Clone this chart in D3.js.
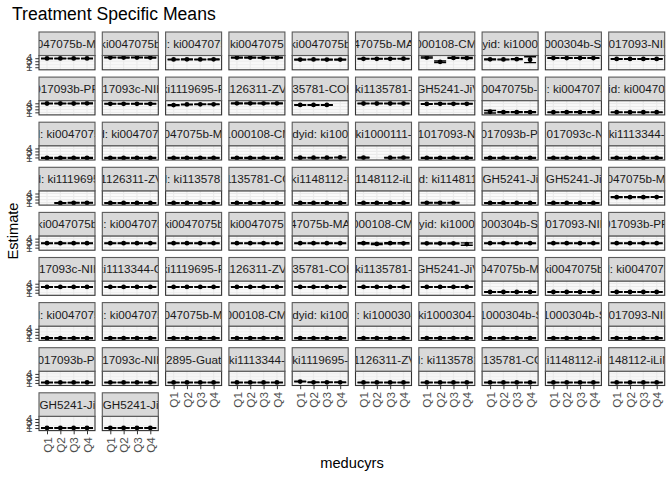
<!DOCTYPE html>
<html><head><meta charset="utf-8">
<script src="https://cdn.jsdelivr.net/npm/d3@7"></script>
<style>body{margin:0;background:#fff}svg{display:block}text{font-family:"Liberation Sans",Arial,Helvetica,sans-serif}</style>
</head><body>
<svg id="chart" width="672" height="480"></svg>
<script>
const quartiles = ["Q1","Q2","Q3","Q4"];
const yTicks = [1,2,3,4];
const stripLabels = [
 "0047075b-MA","ki0047075b","d: ki0047075","ki0047075","ki0047075b","047075b-MAL","1000108-CMC","dyid: ki10001","1000304b-SA","1017093-NIH",
 "017093b-PR","017093c-NIH","ki1119695-P","1126311-ZVI","135781-COH","ki1135781-","iGH5241-JiV","ki0047075b-M","d: ki0047075","dyid: ki0047075",
 "d: ki0047075","id: ki0047075","0047075b-MA","i1000108-CM","udyid: ki1000","ki1000111-","i1017093-NI","1017093b-PR","1017093c-NI","ki1113344-",
 "d: ki1119695","i1126311-ZV","d: ki1135781","i1135781-CO","ki1148112-i","i1148112-iLi","yid: ki1148112","kiGH5241-JiV","kiGH5241-JiV","0047075b-MA",
 "ki0047075b","d: ki0047075","ki0047075b","ki0047075","047075b-MAL","1000108-CMC","dyid: ki10001","1000304b-SA","1017093-NIH","017093b-PR",
 "017093c-NIH","ki1113344-G","ki1119695-P","1126311-ZVI","135781-COH","ki1135781-","iGH5241-JiV","0047075b-MA","ki0047075b","d: ki0047075",
 "d: ki0047075","d: ki0047075","0047075b-MA","1000108-CMC","udyid: ki1000","d: ki1000304","ki1000304-","i1000304b-S","i1000304b-S","1017093-NIH",
 "1017093b-PR","017093c-NIH","12895-Guate","ki1113344-","ki1119695-","i1126311-ZV","d: ki1135781","1135781-CO","ki1148112-iL","1148112-iLiN",
 "kiGH5241-JiV","kiGH5241-JiV"
];
// estimates by panel (Q1..Q4); null = not estimated
const estimates = [
 [3.93,3.93,3.93,3.93],[4.24,4.2,4.24,4.2],[3.58,3.62,3.58,3.62],[4.2,4.2,4.15,4.2],[3.54,3.58,3.54,3.54],[3.80,3.80,3.80,3.84],[4.2,2.79,4.11,4.06],[3.62,3.58,3.67,3.49],[4.06,4.06,4.06,4.06],[3.76,3.76,3.76,3.76],
 [3.93,3.93,3.93,3.98],[3.84,3.84,3.84,3.84],[3.40,3.62,3.67,3.67],[3.98,3.98,3.98,3.98],[3.45,3.45,3.45,null],[3.93,3.93,3.93,3.93],[3.80,3.84,3.84,3.84],[1.2,1.07,1.07,1.07],[1.03,1.07,1.07,1.07],[1.03,1.03,1.03,1.03],
 [0.85,0.85,0.85,0.85],[0.85,0.85,0.85,0.85],[0.85,0.85,0.85,0.85],[0.85,0.85,0.85,0.85],[0.9,0.9,0.9,0.98],[0.94,null,0.9,0.94],[0.85,0.85,0.85,0.85],[0.85,0.85,0.85,0.85],[0.85,0.85,0.85,0.85],[0.85,0.85,0.85,0.85],
 [null,0.85,0.9,0.9],[0.85,0.85,0.85,0.85],[0.85,0.85,0.85,0.85],[0.85,0.85,0.85,0.85],[0.85,0.85,0.85,0.85],[0.85,0.85,0.85,0.85],[0.9,0.9,0.9,null],[0.85,0.85,0.85,0.85],[0.85,0.85,0.85,0.85],[2.79,2.79,2.79,2.83],
 [2.48,2.48,2.48,2.48],[2.48,2.48,2.48,2.48],[2.48,2.48,2.48,2.48],[2.48,2.48,2.48,2.48],[2.48,2.48,2.48,2.48],[2.48,2.22,2.48,2.44],[2.44,2.44,2.44,2.17],[2.48,2.48,2.48,2.48],[2.48,2.48,2.48,2.48],[2.48,2.48,2.48,2.48],
 [2.92,2.92,2.92,2.92],[2.92,2.92,2.92,2.92],[2.92,2.92,2.92,2.92],[2.92,2.92,2.92,2.92],[2.92,2.92,2.92,2.92],[2.92,2.92,2.92,2.92],[2.92,2.92,2.92,2.92],[1.25,1.25,1.25,1.25],[1.25,1.25,1.25,1.25],[1.25,1.25,1.25,1.25],
 [0.9,0.9,0.9,0.9],[0.9,0.9,0.9,0.9],[0.9,0.9,0.9,0.9],[0.9,0.9,0.9,0.9],[0.9,0.9,0.9,0.9],[0.9,0.9,0.9,0.9],[0.9,0.9,0.9,0.9],[0.9,0.9,0.9,0.9],[0.9,0.9,0.9,0.9],[0.9,0.9,0.9,0.9],
 [1.16,1.16,1.16,1.16],[1.16,1.16,1.16,1.16],[1.16,1.16,1.16,1.16],[1.16,1.16,1.16,1.16],[1.47,1.2,1.2,1.2],[1.16,1.16,1.16,1.16],[1.16,1.16,1.16,1.16],[1.16,1.16,1.16,1.16],[1.16,1.16,1.16,1.16],[1.16,1.16,1.16,1.16],
 [1.03,1.03,1.03,1.03],[1.03,1.03,1.03,1.03]
];
// half-width of the 95% interval by panel; default used when not listed
const ciDefault = 0.11;
const ciWide = {7:[0.13,0.13,0.13,0.97], 6:[0.18,0.26,0.18,0.18], 17:[0.4,0.13,0.13,0.13], 46:[0.13,0.13,0.13,0.4], 45:[0.18,0.22,0.18,0.18]};

const svg = d3.select("#chart");
const nCol = 10, x0 = 39, colPitch = 63.3, pw = 56;
const y0 = 32, rowPitch = 45.1, stripH = 23.5, ph = 14.3;
const yDomain = [0.15, 4.9];

svg.append("text").attr("x", 12).attr("y", 20).attr("font-size", 17.6).attr("fill", "#000").text("Treatment Specific Means");

const x = d3.scalePoint().domain(quartiles).range([0, pw]).padding(0.6);
const y = d3.scaleLinear().domain(yDomain).range([ph, 0]);
const minorTicks = [0.5,1.5,2.5,3.5,4.5];

const nPanels = stripLabels.length;
stripLabels.forEach((lab, i) => {
  const r = Math.floor(i / nCol), c = i % nCol;
  const px = x0 + c * colPitch, sy = y0 + r * rowPitch, py = sy + stripH;
  const g = svg.append("g").attr("transform", `translate(${px},${py})`);
  g.append("rect").attr("width", pw).attr("height", ph).attr("fill", "#fff");
  g.selectAll(".mn").data(minorTicks).join("line").attr("x1", 0).attr("x2", pw)
    .attr("y1", d => y(d)).attr("y2", d => y(d)).attr("stroke", "#F0F0F0").attr("stroke-width", 0.7);
  g.selectAll(".mj").data(yTicks).join("line").attr("x1", 0).attr("x2", pw)
    .attr("y1", d => y(d)).attr("y2", d => y(d)).attr("stroke", "#EBEBEB").attr("stroke-width", 1.2);
  g.selectAll(".vx").data(quartiles).join("line").attr("x1", d => x(d)).attr("x2", d => x(d))
    .attr("y1", 0).attr("y2", ph).attr("stroke", "#EBEBEB").attr("stroke-width", 1.2);
  const clipId = "clip" + i;
  g.append("clipPath").attr("id", clipId).append("rect").attr("width", pw).attr("height", ph);
  const pts = quartiles.map((q, k) => ({q, v: estimates[i][k], h: (ciWide[i] ? ciWide[i][k] : ciDefault)})).filter(d => d.v !== null);
  const dg = g.append("g").attr("clip-path", `url(#${clipId})`);
  const cap = x.step() * 0.45;
  pts.forEach(d => {
    const cx = x(d.q), lo = y(d.v - d.h), hi = y(d.v + d.h);
    dg.append("line").attr("x1", cx).attr("x2", cx).attr("y1", lo).attr("y2", hi).attr("stroke", "#000").attr("stroke-width", 1.4);
    dg.append("line").attr("x1", cx - cap).attr("x2", cx + cap).attr("y1", lo).attr("y2", lo).attr("stroke", "#000").attr("stroke-width", 1.4);
    dg.append("line").attr("x1", cx - cap).attr("x2", cx + cap).attr("y1", hi).attr("y2", hi).attr("stroke", "#000").attr("stroke-width", 1.4);
    dg.append("circle").attr("cx", cx).attr("cy", y(d.v)).attr("r", 2.4).attr("fill", "#000");
  });
  g.append("rect").attr("width", pw).attr("height", ph).attr("fill", "none").attr("stroke", "#333").attr("stroke-width", 1.1);
  const s = svg.append("g").attr("transform", `translate(${px},${sy})`);
  const sClip = "sclip" + i;
  s.append("clipPath").attr("id", sClip).append("rect").attr("width", pw).attr("height", stripH);
  s.append("rect").attr("width", pw).attr("height", stripH).attr("fill", "#D9D9D9");
  s.append("text").attr("clip-path", `url(#${sClip})`).attr("x", pw / 2).attr("y", stripH / 2).attr("dy", "0.36em")
    .attr("text-anchor", "middle").attr("font-size", 11.7).attr("fill", "#1A1A1A").text(lab);
  s.append("rect").attr("width", pw).attr("height", stripH).attr("fill", "none").attr("stroke", "#5A5A5A").attr("stroke-width", 1.1);
  if (c === 0) {
    const ax = svg.append("g").attr("transform", `translate(${px},${py})`)
      .call(d3.axisLeft(y).tickValues(yTicks).tickSize(3.7).tickPadding(2.9).tickFormat(d3.format("d")));
    ax.select(".domain").remove();
    ax.selectAll("line").attr("stroke", "#333");
    ax.selectAll("text").attr("font-size", 11.7).attr("fill", "#4D4D4D").attr("font-family", "Liberation Sans, Arial, sans-serif");
  }
  if (i + nCol >= nPanels) {
    const ax = svg.append("g").attr("transform", `translate(${px},${py + ph})`)
      .call(d3.axisBottom(x).tickSize(3.7).tickPadding(2.9));
    ax.select(".domain").remove();
    ax.selectAll("line").attr("stroke", "#333");
    ax.selectAll("text").attr("font-size", 11.7).attr("fill", "#4D4D4D").attr("font-family", "Liberation Sans, Arial, sans-serif")
      .attr("transform", "rotate(-90)").attr("text-anchor", "end").attr("x", -6.6).attr("y", 0).attr("dy", "0.35em");
  }
});

svg.append("text").attr("transform", `translate(13,231) rotate(-90)`).attr("text-anchor", "middle").attr("dy", "0.35em")
  .attr("font-size", 14.67).attr("fill", "#000").text("Estimate");
svg.append("text").attr("x", 352).attr("y", 463).attr("dy", "0.35em").attr("text-anchor", "middle")
  .attr("font-size", 14.67).attr("fill", "#000").text("meducyrs");
</script>
</body></html>
